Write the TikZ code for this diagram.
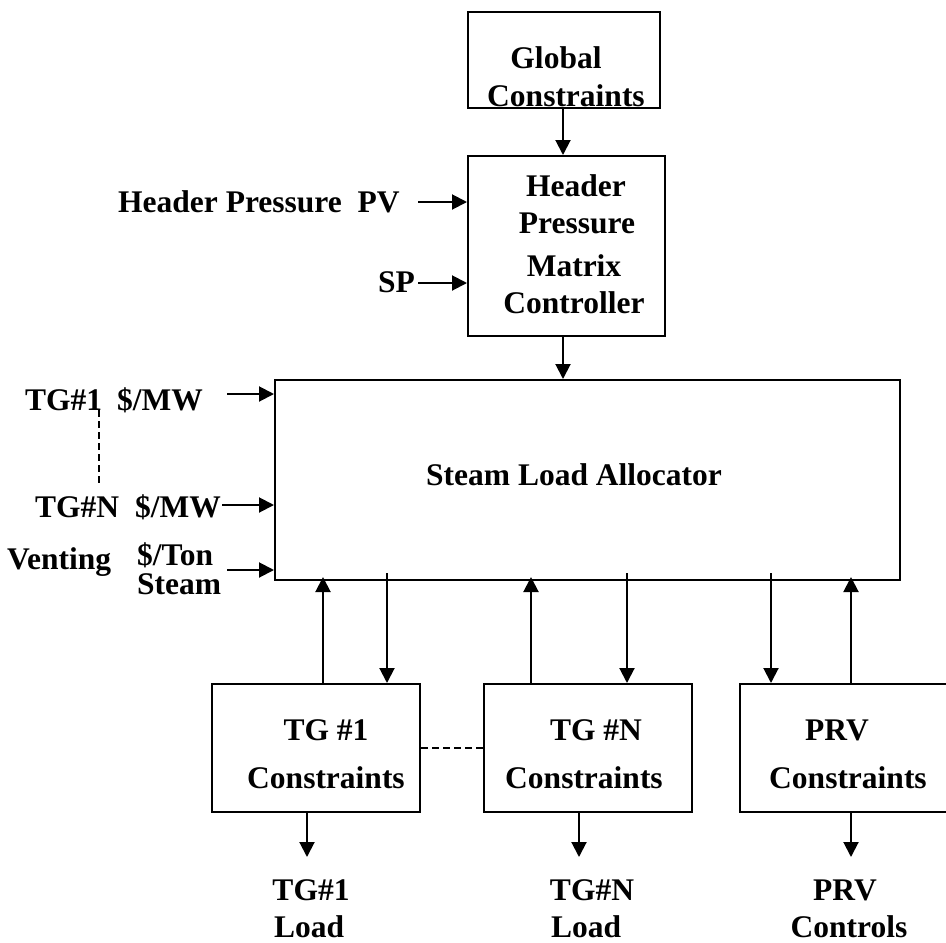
\documentclass[tikz,border=0pt]{standalone}
\usepackage{fontspec}
\setmainfont{Liberation Serif}
\usetikzlibrary{arrows.meta}
\begin{document}
\begin{tikzpicture}[x=1pt,y=-1pt,
  box/.style={draw, line width=2pt, inner sep=0pt, anchor=north west},
  txt/.style={font=\bfseries\fontsize{31.5}{36}\selectfont, inner sep=0pt, anchor=base},
  txtl/.style={txt, anchor=base west},
  arr/.style={line width=2pt, -{Triangle[length=15pt,width=15pt]}},
  dashline/.style={line width=2pt, dash pattern=on 7pt off 4pt}]
\useasboundingbox (0,0) rectangle (946,943);

% blocks
\node[box, minimum width=192pt, minimum height=96pt]  (glob) at (467,11)  {};
\node[box, minimum width=197pt, minimum height=180pt] (hpmc) at (467,155) {};
\node[box, minimum width=625pt, minimum height=200pt] (sla)  at (274,379) {};
\node[box, minimum width=208pt, minimum height=128pt] (tg1)  at (211,683) {};
\node[box, minimum width=208pt, minimum height=128pt] (tgn)  at (483,683) {};
\node[box, minimum width=216pt, minimum height=128pt] (prv)  at (739,683) {};

% block texts
\node[txt] (globa) at (556,68)  {Global};
\node[txt] (globb) at (566,106) {Constraints};
\node[txt] (hpa) at (576,196) {Header};
\node[txt] (hpb) at (577,233) {Pressure};
\node[txt] (hpc) at (574,276) {Matrix};
\node[txt] (hpd) at (574,313) {Controller};
\node[txt] (slat) at (574,485) {Steam Load Allocator};
\node[txt] (tg1a) at (326,740) {TG \#1};
\node[txt] (tg1b) at (326,788) {Constraints};
\node[txt] (tgna) at (596,740) {TG \#N};
\node[txt] (tgnb) at (584,788) {Constraints};
\node[txt] (prva) at (837,740) {PRV};
\node[txt] (prvb) at (848,788) {Constraints};

% input labels
\node[txtl] (pvl) at (118,212) {Header Pressure\ \ PV};
\node[txtl] (spl) at (378,292) {SP};
\node[txtl] (c1l) at (25,410)  {TG\#1};
\node[txtl] (c1r) at (117,410) {\$/MW};
\node[txtl] (cnl) at (35,517)  {TG\#N};
\node[txtl] (cnr) at (135,517) {\$/MW};
\node[txtl] (vnl) at (7,569)   {Venting};
\node[txtl] (vna) at (137,565) {\$/Ton};
\node[txtl] (vnb) at (137,594) {Steam};

% output labels
\node[txt] (o1a) at (311,900) {TG\#1};
\node[txtl] (o1b) at (274,937) {Load};
\node[txt] (ona) at (592,900) {TG\#N};
\node[txtl] (onb) at (551,937) {Load};
\node[txt] (opa) at (845,900) {PRV};
\node[txt] (opb) at (849,937) {Controls};

% arrow start points and columns
\coordinate (pvs) at (418,202);
\coordinate (sps) at (418,283);
\coordinate (c1s) at (227,394);
\coordinate (cns) at (222,505);
\coordinate (vns) at (227,570);
\coordinate (dtop) at (99,410);
\coordinate (dbot) at (99,485);
\coordinate (hx) at (563,0);
\coordinate (u1) at (323,0);
\coordinate (d1) at (387,0);
\coordinate (u2) at (531,0);
\coordinate (d2) at (627,0);
\coordinate (d3) at (771,0);
\coordinate (u3) at (851,0);
\coordinate (b1) at (307,0);
\coordinate (b2) at (579,0);
\coordinate (b3) at (851,0);
\coordinate (lo) at (0,857);

% vertical flow
\draw[arr] (glob.south -| hx) -- (hpmc.north -| hx);
\draw[arr] (hpmc.south -| hx) -- (sla.north -| hx);

% inputs
\draw[arr] (pvs) -- (pvs -| hpmc.west);
\draw[arr] (sps) -- (sps -| hpmc.west);
\draw[arr] (c1s) -- (c1s -| sla.west);
\draw[arr] (cns) -- (cns -| sla.west);
\draw[arr] (vns) -- (vns -| sla.west);
\draw[dashline] (dtop) -- (dbot);

% allocator <-> constraint blocks
\draw[arr] (tg1.north -| u1) -- ([yshift=4pt]sla.south -| u1);
\draw[arr] ([yshift=8pt]sla.south -| d1) -- (tg1.north -| d1);
\draw[arr] (tgn.north -| u2) -- ([yshift=4pt]sla.south -| u2);
\draw[arr] ([yshift=8pt]sla.south -| d2) -- (tgn.north -| d2);
\draw[arr] ([yshift=8pt]sla.south -| d3) -- (prv.north -| d3);
\draw[arr] (prv.north -| u3) -- ([yshift=4pt]sla.south -| u3);
\draw[dashline] (tg1.east) -- (tgn.west);

% outputs
\draw[arr] (tg1.south -| b1) -- (lo -| b1);
\draw[arr] (tgn.south -| b2) -- (lo -| b2);
\draw[arr] (prv.south -| b3) -- (lo -| b3);
\end{tikzpicture}
\end{document}
